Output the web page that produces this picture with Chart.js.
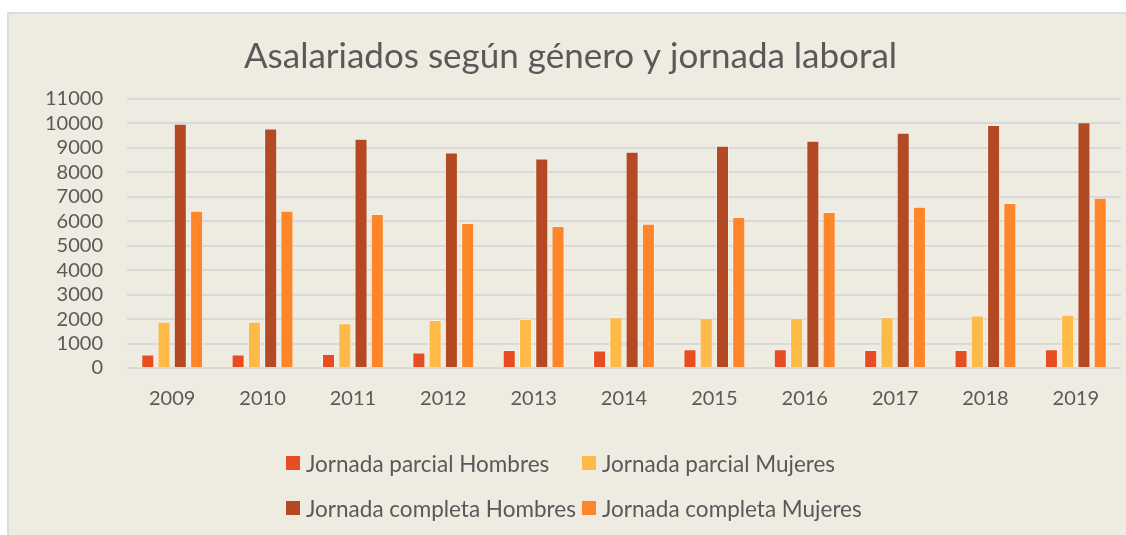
<!DOCTYPE html>
<html>
<head>
<meta charset="utf-8">
<script src="https://cdn.jsdelivr.net/npm/chart.js@4/dist/chart.umd.min.js"></script>
<style>
    html, body { margin: 0; padding: 0; background: #ffffff; }
    #frame {
        position: absolute; left: 7px; top: 12px; width: 1119px; height: 523px;
        background: #eeebe1; border-left: 2px solid #dcdcdc; border-top: 2px solid #dcdcdc;
        box-sizing: border-box;
    }
    #chart { position: absolute; left: 0; top: 0; }
    #legend {
        position: absolute; left: 286px; top: 449px;
        display: grid; grid-template-columns: 296px auto; row-gap: 17px;
        font-family: Lato, sans-serif; font-size: 22.5px; color: #595959;
    }
    .item { display: flex; align-items: center; height: 28px; white-space: nowrap; }
    .box { width: 14px; height: 14px; margin-right: 6px; flex: none; }
</style>
</head>
<body>
<div id="frame"></div>
<canvas id="chart" width="1126" height="535"></canvas>
<div id="legend"></div>
<script>
// 年（カテゴリ）
const years = ['2009', '2010', '2011', '2012', '2013', '2014', '2015', '2016', '2017', '2018', '2019'];

// 系列データ
const parcialHombres  = [550, 550, 575, 630, 740, 715, 765, 765, 740, 740, 765];
const parcialMujeres  = [1890, 1890, 1835, 1960, 2000, 2080, 2040, 2040, 2080, 2150, 2175];
const completaHombres = [9990, 9790, 9375, 8815, 8565, 8840, 9085, 9295, 9620, 9935, 10045];
const completaMujeres = [6430, 6430, 6300, 5925, 5805, 5900, 6175, 6380, 6595, 6750, 6965];

const seriesLabels = ['Jornada parcial Hombres', 'Jornada parcial Mujeres', 'Jornada completa Hombres', 'Jornada completa Mujeres'];
const seriesColors = ['#e84d22', '#ffb946', '#b44a24', '#ff8628'];
const seriesData = [parcialHombres, parcialMujeres, completaHombres, completaMujeres];

// Y軸目盛
const yMin = 0;
const yMax = 11000;
const yStep = 1000;

const textColor = '#595959';
const gridColor = '#d9d9d9';

const datasets = seriesLabels.map((label, i) => ({
    label: label,
    data: seriesData[i],
    backgroundColor: seriesColors[i],
    borderColor: 'rgba(255,255,255,0.35)',
    borderWidth: 1,
    categoryPercentage: 0.72,
    barPercentage: 0.8
}));

const chart = new Chart(document.getElementById('chart').getContext('2d'), {
    type: 'bar',
    data: { labels: years, datasets: datasets },
    options: {
        responsive: false,
        animation: false,
        layout: { padding: { top: 18, right: 5, bottom: 105, left: 20 } },
        plugins: {
            legend: { display: false }, // 凡例はHTMLで表示
            tooltip: { enabled: false },
            title: {
                display: true,
                text: 'Asalariados según género y jornada laboral',
                color: textColor,
                font: { family: 'Lato', size: 35, weight: 'normal' },
                padding: { top: 18, bottom: 21 }
            }
        },
        scales: {
            x: {
                grid: { display: false, drawTicks: false },
                border: { display: false },
                ticks: {
                    color: textColor,
                    padding: 19,
                    font: { family: 'Lato', size: 20 }
                }
            },
            y: {
                min: yMin,
                max: yMax,
                afterFit: scale => { scale.width = 107; },
                border: { display: false },
                grid: { color: gridColor, lineWidth: 2, drawTicks: false },
                ticks: {
                    stepSize: yStep,
                    autoSkip: false,
                    maxTicksLimit: 20,
                    color: textColor,
                    padding: 24,
                    font: { family: 'Lato', size: 20, lineHeight: 1 },
                    callback: value => String(value)
                }
            }
        }
    }
});

// 凡例（2列表示）
const legend = document.getElementById('legend');
chart.data.datasets.forEach(ds => {
    const item = document.createElement('div');
    item.className = 'item';
    const box = document.createElement('span');
    box.className = 'box';
    box.style.background = ds.backgroundColor;
    const text = document.createElement('span');
    text.textContent = ds.label;
    item.appendChild(box);
    item.appendChild(text);
    legend.appendChild(item);
});
</script>
</body>
</html>
